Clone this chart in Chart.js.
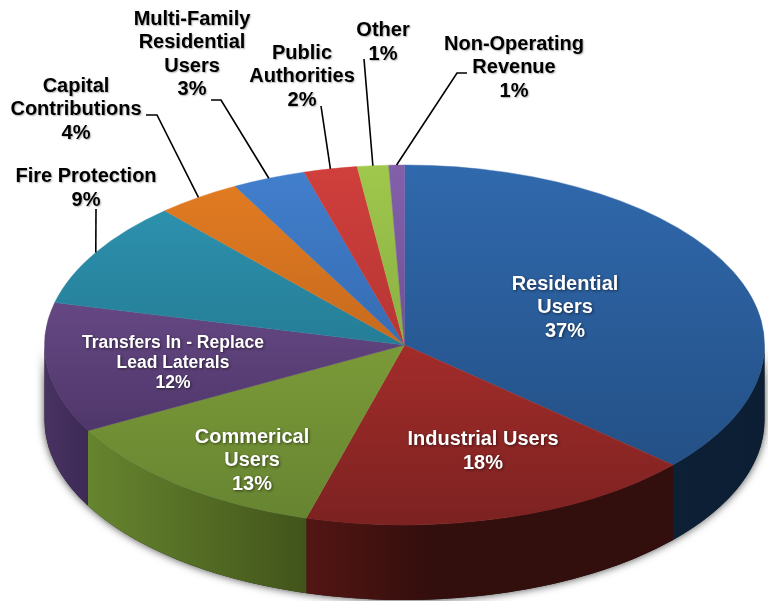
<!DOCTYPE html>
<html>
<head>
<meta charset="utf-8">
<title>Revenue sources</title>
<script src="https://cdn.jsdelivr.net/npm/chart.js@4/dist/chart.umd.min.js"></script>
<style>
	html, body { margin: 0; padding: 0; background: #fff; }
	canvas { display: block; }
</style>
</head>
<body>
<canvas id="canvas" width="768" height="601"></canvas>
<script>
// Data
const categories = ['Residential Users', 'Industrial Users', 'Commerical Users', 'Transfers In - Replace Lead Laterals', 'Fire Protection', 'Capital Contributions', 'Multi-Family Residential Users', 'Public Authorities', 'Other', 'Non-Operating Revenue'];
const sliceValues = [36.6, 17.8, 12.7, 11.7, 9.6, 3.8, 3.3, 2.4, 1.4, 0.7];
const percentLabels = ['37%', '18%', '13%', '12%', '9%', '4%', '3%', '2%', '1%', '1%'];

// Styles
const faceTop = ['#3069ad', '#c83632', '#8fb03f', '#7d5a9e', '#2f97b5', '#e57d22', '#427fcd', '#d03f3c', '#9fc84c', '#8360aa'];
const faceBottom = ['#214b7e', '#7c2221', '#668431', '#3f2a58', '#1c6478', '#a8581a', '#2a5a98', '#9c2c2b', '#76963a', '#5e4280'];
const sideLeft = ['#0c2036', '#531613', '#66852f', '#483262'];
const sideRight = ['#0c1e33', '#320e0c', '#42541a', '#3d2a55'];

// Layout of the squashed pie on the page
const pieX = 404.5, pieY = 345, pieRadius = 360, squash = 0.5, depth = 75;

// Label text lines: [x, first line y, line step, font size, colour, lines]
const labelLayout = [
	[565, 284, 23.5, 20, '#fff', ['Residential', 'Users']],
	[483, 439, 24, 20, '#fff', ['Industrial Users']],
	[252, 437, 23.5, 20, '#fff', ['Commerical', 'Users']],
	[173, 343, 20, 17.5, '#fff', ['Transfers In - Replace', 'Lead Laterals']],
	[86, 176, 24, 20, '#000', ['Fire Protection']],
	[76, 86, 23.5, 20, '#000', ['Capital', 'Contributions']],
	[192, 19, 23.5, 20, '#000', ['Multi-Family', 'Residential', 'Users']],
	[302, 53, 23.5, 20, '#000', ['Public', 'Authorities']],
	[383, 30, 24, 20, '#000', ['Other']],
	[514, 44, 23.5, 20, '#000', ['Non-Operating', 'Revenue']]
];

// Leader lines: slice index and the fixed points before the rim
const leaderLines = [
	[4, [[96, 209]]],
	[5, [[146, 115], [157, 115]]],
	[6, [[211, 100], [221, 100]]],
	[7, [[321, 106]]],
	[8, [[364, 59]]],
	[9, [[467, 73], [457, 73]]]
];

const piePerspective = {
	id: 'piePerspective',
	beforeDatasetsDraw(chart) {
		const ctx = chart.ctx;
		const arcs = chart.getDatasetMeta(0).data;
		const ry = pieRadius * squash;

		// soft shadow under the wall
		ctx.save();
		ctx.shadowColor = 'rgba(0,0,0,0.75)';
		ctx.shadowBlur = 9;
		ctx.fillStyle = '#222';
		ctx.beginPath();
		ctx.ellipse(pieX, pieY, pieRadius, ry, 0, 0, Math.PI);
		ctx.ellipse(pieX, pieY + depth, pieRadius, ry, 0, Math.PI, 0, true);
		ctx.closePath();
		ctx.fill();
		ctx.restore();

		// front wall of each slice
		arcs.forEach((arc, i) => {
			const from = Math.max(arc.startAngle, 0);
			const to = Math.min(arc.endAngle, Math.PI);
			if (to <= from) return;
			const xa = pieX + pieRadius * Math.cos(from);
			const xb = pieX + pieRadius * Math.cos(to);
			const grad = ctx.createLinearGradient(xb, 0, xa, 0);
			grad.addColorStop(0, sideLeft[i]);
			grad.addColorStop(i === 1 ? 0.35 : 1, sideRight[i]);
			grad.addColorStop(1, sideRight[i]);
			ctx.fillStyle = grad;
			ctx.beginPath();
			ctx.ellipse(pieX, pieY, pieRadius, ry, 0, from, to);
			ctx.ellipse(pieX, pieY + depth, pieRadius, ry, 0, to, from, true);
			ctx.closePath();
			ctx.fill();
		});

		// the library draws the face inside this transform
		const c = arcs[0];
		ctx.save();
		ctx.translate(pieX, pieY);
		ctx.scale(1, squash);
		ctx.translate(-c.x, -c.y);
	},
	afterDatasetsDraw(chart) {
		chart.ctx.restore();
	},
	afterDraw(chart) {
		const ctx = chart.ctx;
		const arcs = chart.getDatasetMeta(0).data;

		ctx.save();
		ctx.strokeStyle = '#000';
		ctx.lineWidth = 1.6;
		leaderLines.forEach(([i, points]) => {
			const mid = (arcs[i].startAngle + arcs[i].endAngle) / 2;
			ctx.beginPath();
			points.forEach(([x, y], n) => n ? ctx.lineTo(x, y) : ctx.moveTo(x, y));
			ctx.lineTo(pieX + pieRadius * Math.cos(mid), pieY + pieRadius * squash * Math.sin(mid));
			ctx.stroke();
		});
		ctx.restore();

		ctx.save();
		ctx.textAlign = 'center';
		ctx.textBaseline = 'middle';
		labelLayout.forEach(([x, y, step, size, colour, lines], i) => {
			ctx.font = 'bold ' + size + 'px "Liberation Sans", Arial, sans-serif';
			ctx.fillStyle = colour;
			ctx.shadowColor = colour === '#fff' ? 'rgba(0,0,0,0.55)' : 'rgba(0,0,0,0.3)';
			ctx.shadowBlur = colour === '#fff' ? 3 : 1.5;
			ctx.shadowOffsetX = 1;
			ctx.shadowOffsetY = 1;
			lines.concat(percentLabels[i]).forEach((line, n) => ctx.fillText(line, x, y + n * step));
		});
		ctx.restore();
	}
};

function faceColor(context) {
	const chart = context.chart;
	if (!chart.chartArea) return faceTop[context.dataIndex];
	const midY = (chart.chartArea.top + chart.chartArea.bottom) / 2;
	const grad = chart.ctx.createLinearGradient(0, midY - pieRadius, 0, midY + pieRadius);
	grad.addColorStop(0, faceTop[context.dataIndex]);
	grad.addColorStop(1, faceBottom[context.dataIndex]);
	return grad;
}

new Chart(document.getElementById('canvas').getContext('2d'), {
	type: 'pie',
	data: {
		labels: categories,
		datasets: [{
			data: sliceValues,
			backgroundColor: faceColor,
			borderColor: faceColor,
			borderWidth: 0.6,
			clip: false
		}]
	},
	options: {
		responsive: false,
		animation: false,
		radius: pieRadius,
		layout: { padding: 0 },
		plugins: {
			legend: { display: false },
			tooltip: { enabled: false },
			title: { display: false }
		}
	},
	plugins: [piePerspective]
});
</script>
</body>
</html>
